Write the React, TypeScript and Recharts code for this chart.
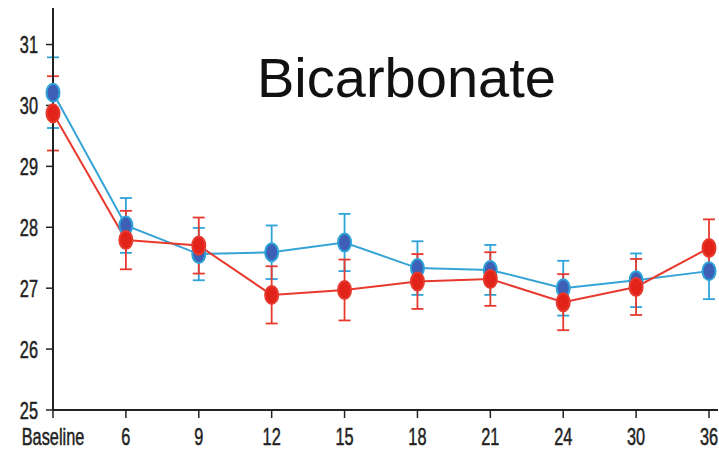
import React from "react";
import { ComposedChart, Line, XAxis, YAxis, ErrorBar, Customized } from "recharts";

const months = ["Baseline", "6", "9", "12", "15", "18", "21", "24", "30", "36"];
const blueMean = [30.21, 28.03, 27.56, 27.59, 27.75, 27.33, 27.3, 27.0, 27.13, 27.28];
const blueErr = [0.58, 0.45, 0.43, 0.44, 0.47, 0.44, 0.41, 0.45, 0.44, 0.46];
const redMean = [29.87, 27.79, 27.7, 26.89, 26.97, 27.11, 27.15, 26.77, 27.02, 27.66];
const redErr = [0.61, 0.48, 0.46, 0.47, 0.5, 0.45, 0.44, 0.46, 0.46, 0.47];
const yTicks = [25, 26, 27, 28, 29, 30, 31];

const data = months.map((m, i) => ({
  month: m,
  blue: blueMean[i],
  blueErr: blueErr[i],
  red: redMean[i],
  redErr: redErr[i],
}));

const FONT = "'Liberation Sans', Arial, sans-serif";

const XTick = (props: any) => {
  const { x, y, payload } = props;
  return (
    <g transform={`translate(${x},${y})`}>
      <text transform="scale(0.68,1)" textAnchor="middle" y={25} fontSize={24} fontFamily={FONT} fill="#222" stroke="#222" strokeWidth={0.5}>
        {payload.value}
      </text>
    </g>
  );
};

const YTick = (props: any) => {
  const { x, y, payload } = props;
  return (
    <g transform={`translate(${x - 6},${y})`}>
      <text transform="scale(0.68,1)" textAnchor="end" dy={8.5} fontSize={24} fontFamily={FONT} fill="#222" stroke="#222" strokeWidth={0.5}>
        {payload.value}
      </text>
    </g>
  );
};

const makeDot = (fill: string, stroke: string) => (props: any) => {
  const { cx, cy, index } = props;
  if (cx == null || cy == null) return <g key={index} />;
  return <ellipse key={index} cx={cx} cy={cy} rx={6.5} ry={9} fill={fill} stroke={stroke} strokeWidth={2} />;
};

const Title = () => (
  <text x={257} y={97} fontSize={56} fontFamily={FONT} fill="#111">
    Bicarbonate
  </text>
);

export default function App() {
  return (
    <div style={{ position: "fixed", left: 0, top: 0, width: 719, height: 457, background: "#fff" }}>
      <style>{"html,body{margin:0;overflow:hidden}"}</style>
      <ComposedChart width={719} height={457} data={data} margin={{ top: 8, right: 1, bottom: 7, left: 8 }}>
        <XAxis
          dataKey="month"
          interval={0}
          tickSize={8}
          padding={{ left: 0, right: 9 }}
          axisLine={{ stroke: "#222", strokeWidth: 2 }}
          tickLine={{ stroke: "#222", strokeWidth: 1.5 }}
          tick={<XTick />}
          height={40}
        />
        <YAxis
          domain={[25, 31.6]}
          ticks={yTicks}
          width={45}
          tickSize={7}
          axisLine={{ stroke: "#222", strokeWidth: 2 }}
          tickLine={{ stroke: "#222", strokeWidth: 1.5 }}
          tick={<YTick />}
        />
        <Line
          dataKey="blue"
          stroke="#35a3d6"
          strokeWidth={2}
          dot={makeDot("#3d5fb5", "#2ea3d8")}
          activeDot={false}
          isAnimationActive={false}
        >
          <ErrorBar dataKey="blueErr" width={6} strokeWidth={1.8} stroke="#2ea3d8" direction="y" />
        </Line>
        <Line
          dataKey="red"
          stroke="#e8392e"
          strokeWidth={2}
          dot={makeDot("#e2231a", "#e8392e")}
          activeDot={false}
          isAnimationActive={false}
        >
          <ErrorBar dataKey="redErr" width={6} strokeWidth={1.8} stroke="#e8392e" direction="y" />
        </Line>
        <Customized component={Title} />
      </ComposedChart>
    </div>
  );
}
